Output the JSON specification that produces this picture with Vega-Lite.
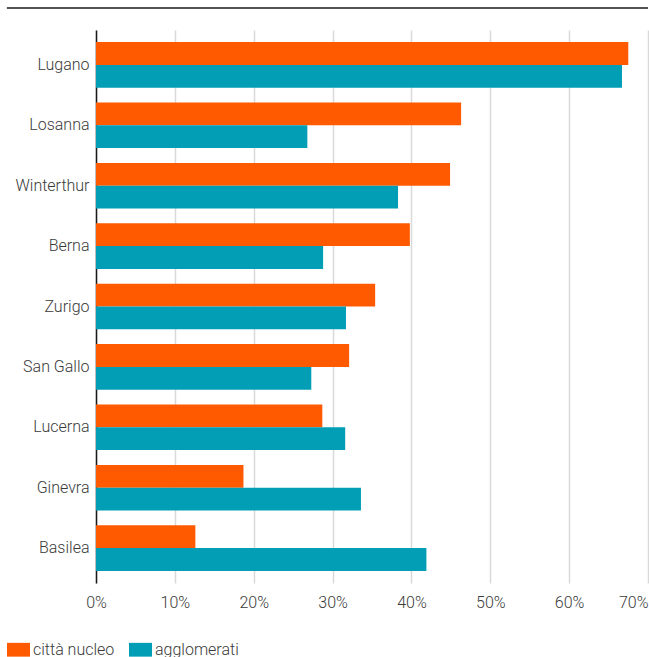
{
  "$schema": "https://vega.github.io/schema/vega-lite/v6.json",
  "padding": {"left": 6, "top": 7, "right": 1, "bottom": 0},
  "spacing": 21,
  "config": {
    "view": {"stroke": null},
    "font": "Roboto",
    "axis": {"labelFont": "Roboto", "labelFontSize": 16, "labelColor": "#3a3a3a", "labelFontWeight": 300},
    "legend": {"labelFont": "Roboto", "labelFontSize": 16, "labelColor": "#3a3a3a", "labelFontWeight": 300}
  },
  "vconcat": [
    {
      "width": 552,
      "height": 1,
      "data": {"values": [{"start": -0.113, "end": 0.7, "v": 1}]},
      "mark": {"type": "rule", "color": "#1a1a1a", "strokeWidth": 1.5, "clip": false},
      "encoding": {
        "x": {"field": "start", "type": "quantitative", "scale": {"domain": [0, 0.7], "nice": false, "zero": false}, "axis": null},
        "x2": {"field": "end"},
        "y": {"field": "v", "type": "quantitative", "scale": {"domain": [0, 1]}, "axis": null}
      }
    },
    {
      "width": 552,
      "height": 553,
      "data": {
        "values": [
          {"city": "Lugano", "serie": "città nucleo", "value": 0.675},
          {"city": "Lugano", "serie": "agglomerati", "value": 0.667},
          {"city": "Losanna", "serie": "città nucleo", "value": 0.463},
          {"city": "Losanna", "serie": "agglomerati", "value": 0.268},
          {"city": "Winterthur", "serie": "città nucleo", "value": 0.449},
          {"city": "Winterthur", "serie": "agglomerati", "value": 0.383},
          {"city": "Berna", "serie": "città nucleo", "value": 0.398},
          {"city": "Berna", "serie": "agglomerati", "value": 0.288},
          {"city": "Zurigo", "serie": "città nucleo", "value": 0.354},
          {"city": "Zurigo", "serie": "agglomerati", "value": 0.317},
          {"city": "San Gallo", "serie": "città nucleo", "value": 0.321},
          {"city": "San Gallo", "serie": "agglomerati", "value": 0.273},
          {"city": "Lucerna", "serie": "città nucleo", "value": 0.287},
          {"city": "Lucerna", "serie": "agglomerati", "value": 0.316},
          {"city": "Ginevra", "serie": "città nucleo", "value": 0.187},
          {"city": "Ginevra", "serie": "agglomerati", "value": 0.336},
          {"city": "Basilea", "serie": "città nucleo", "value": 0.126},
          {"city": "Basilea", "serie": "agglomerati", "value": 0.419}
        ]
      },
      "mark": {"type": "bar"},
      "encoding": {
        "y": {
          "field": "city",
          "type": "nominal",
          "sort": null,
          "scale": {"paddingInner": 0.245, "paddingOuter": 0.2},
          "axis": {
            "title": null,
            "ticks": false,
            "domain": true,
            "domainColor": "#1a1a1a",
            "domainWidth": 1.5,
            "labelPadding": 7
          }
        },
        "yOffset": {
          "field": "serie",
          "type": "nominal",
          "sort": ["città nucleo", "agglomerati"],
          "scale": {"paddingInner": 0, "paddingOuter": 0}
        },
        "x": {
          "field": "value",
          "type": "quantitative",
          "scale": {"domain": [0, 0.7], "nice": false},
          "axis": {
            "title": null,
            "format": ".0%",
            "values": [0, 0.1, 0.2, 0.3, 0.4, 0.5, 0.6, 0.7],
            "domain": false,
            "ticks": false,
            "grid": true,
            "gridColor": "#d9d9d9",
            "gridWidth": 1.5,
            "labelPadding": 11,
            "labelAlign": {"condition": {"test": "datum.value >= 0.7", "value": "right"}, "value": "center"}
          }
        },
        "color": {
          "field": "serie",
          "type": "nominal",
          "sort": ["città nucleo", "agglomerati"],
          "scale": {"domain": ["città nucleo", "agglomerati"], "range": ["#ff5a00", "#029eb6"]},
          "legend": {
            "title": null,
            "orient": "none",
            "direction": "horizontal",
            "legendX": -89,
            "legendY": 630,
            "symbolType": "M-1,-0.6H1V0.6H-1Z",
            "symbolSize": 529,
            "symbolStrokeWidth": 0,
            "symbolOpacity": 1,
            "labelOffset": 3,
            "columnPadding": 14
          }
        }
      }
    }
  ]
}
